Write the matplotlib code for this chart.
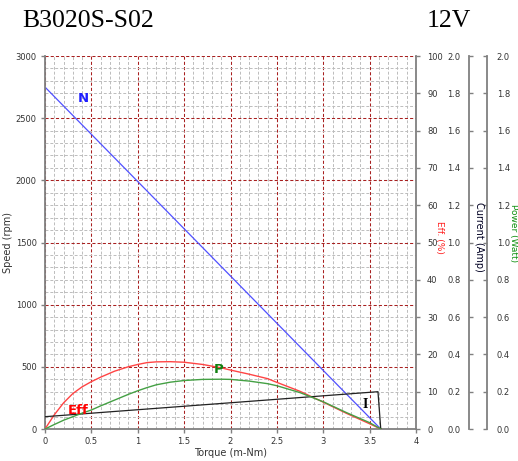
import numpy as np
import matplotlib.pyplot as plt
from matplotlib.ticker import MultipleLocator, FuncFormatter

# values
torque = [0, 0.1, 0.2, 0.3, 0.4, 0.5, 0.6, 0.75, 0.9, 1.0, 1.1, 1.2, 1.35, 1.5, 1.7, 1.9, 2.0,
          2.2, 2.4, 2.5, 2.75, 3.0, 3.25, 3.5, 3.62]
eff = [0, 3.8, 7.0, 9.5, 11.3, 12.7, 13.9, 15.5, 16.7, 17.3, 17.8, 18.0, 18.05, 17.9, 17.3, 16.4, 15.8,
       14.7, 13.5, 12.5, 10.1, 7.2, 4.2, 1.4, 0]
power = [0, 0.024, 0.047, 0.066, 0.085, 0.102, 0.124, 0.155, 0.186, 0.205, 0.222, 0.237, 0.251, 0.26, 0.266, 0.267, 0.266,
         0.257, 0.243, 0.232, 0.195, 0.146, 0.088, 0.034, 0]
speed_torque = [0, 3.62]
speed = [2750, 0]
current_torque = [0, 3.59, 3.62]
current = [0.066, 0.2, 0]

W, H = 518, 461
fig = plt.figure(figsize=(W / 100, H / 100), dpi=100)
ax = fig.add_axes([45 / W, (H - 429) / H, 371 / W, 373 / H])

spine_col = '#808080'
tick_col = '#333333'
fs = 6

#main axes: speed
ax.set_xlim(0, 4)
ax.set_ylim(0, 3000)
ax.xaxis.set_major_locator(MultipleLocator(0.5))
ax.xaxis.set_minor_locator(MultipleLocator(0.1))
ax.yaxis.set_major_locator(MultipleLocator(500))
ax.yaxis.set_minor_locator(MultipleLocator(100))
ax.xaxis.set_major_formatter(FuncFormatter(lambda v, p: '%g' % v))
ax.grid(which='major', color='#a82020', ls=(0, (3, 2)), lw=0.75)
ax.grid(which='minor', color='#bcbcbc', ls=(0, (3, 2)), lw=0.7)
ax.set_axisbelow(True)
ax.tick_params(which='minor', length=0)
ax.tick_params(which='major', length=3, width=1, color=spine_col, labelsize=fs, labelcolor=tick_col, pad=3)
for s in ['top', 'right']:
    ax.spines[s].set_visible(False)
for s in ['left', 'bottom']:
    ax.spines[s].set_color(spine_col)
    ax.spines[s].set_linewidth(1.3)
ax.set_ylabel('Speed (rpm)', fontsize=7, color=tick_col, labelpad=2)
ax.set_xlabel('Torque (m-Nm)', fontsize=7, color=tick_col, labelpad=1)
ax.plot(speed_torque, speed, color='#5050ff', lw=0.9)

#efficiency axis
ax_e = ax.twinx()
ax_e.set_ylim(0, 100)
ax_e.yaxis.set_major_locator(MultipleLocator(10))
ax_e.tick_params(length=3, width=1, color=spine_col, labelsize=fs, labelcolor=tick_col, pad=5)
for s in ['top', 'left', 'bottom']:
    ax_e.spines[s].set_visible(False)
ax_e.spines['right'].set_color(spine_col)
ax_e.spines['right'].set_linewidth(1.3)
ax_e.plot(torque, eff, color='#ff4444', lw=1.0)

#current axis
ax_i = ax.twinx()
ax_i.set_ylim(0, 2.0)
ax_i.yaxis.set_major_locator(MultipleLocator(0.2))
ax_i.yaxis.set_major_formatter(FuncFormatter(lambda v, p: '%.1f' % v))
ax_i.yaxis.tick_left()
ax_i.spines['left'].set_position(('axes', (469 - 45) / 371))
for s in ['top', 'right', 'bottom']:
    ax_i.spines[s].set_visible(False)
ax_i.spines['left'].set_color(spine_col)
ax_i.spines['left'].set_linewidth(1.3)
ax_i.tick_params(direction='in', length=3, width=1, color=spine_col, labelsize=fs, labelcolor=tick_col, pad=6)
ax_i.plot(current_torque, current, color='#222222', lw=0.9)

#power axis
ax_p = ax.twinx()
ax_p.set_ylim(0, 2.0)
ax_p.yaxis.set_major_locator(MultipleLocator(0.2))
ax_p.yaxis.set_major_formatter(FuncFormatter(lambda v, p: '%.1f' % v))
ax_p.spines['right'].set_position(('axes', (487 - 45) / 371))
for s in ['top', 'left', 'bottom']:
    ax_p.spines[s].set_visible(False)
ax_p.spines['right'].set_color(spine_col)
ax_p.spines['right'].set_linewidth(1.3)
ax_p.tick_params(direction='in', length=3, width=1, color=spine_col, labelsize=fs, labelcolor=tick_col, pad=7)
ax_p.plot(torque, power, color='#44a044', lw=1.0)

#axis titles on the right
fig.text(440 / W, 1 - 237 / H, 'Eff. (%)', rotation=270, color='#ff2020', fontsize=6.5, ha='center', va='center')
fig.text(479 / W, 1 - 237 / H, 'Current (Amp)', rotation=270, color='#000022', fontsize=7, ha='center', va='center')
fig.text(513 / W, 1 - 233 / H, 'Power (Watt)', rotation=270, color='#109010', fontsize=6.5, ha='center', va='center')

#curve labels
fig.text(83 / W, 1 - 98 / H, 'N', color='#2020ff', fontsize=9.5, fontweight='bold', ha='center', va='center')
fig.text(78 / W, 1 - 410 / H, 'Eff', color='#ff0000', fontsize=9.5, fontweight='bold', ha='center', va='center')
fig.text(219 / W, 1 - 369 / H, 'P', color='#108010', fontsize=9.5, fontweight='bold', ha='center', va='center')
fig.text(365 / W, 1 - 404 / H, 'I', color='#000000', fontsize=10, fontweight='bold', family='Liberation Serif', ha='center', va='center')

#title
fig.text(22 / W, 1 - 21 / H, 'B3020S-S02', fontsize=18.5, family='Liberation Serif', ha='left', va='center')
fig.text(427 / W, 1 - 21 / H, '12V', fontsize=18.5, family='Liberation Serif', ha='left', va='center')

fig.savefig('out.png', dpi=100)
